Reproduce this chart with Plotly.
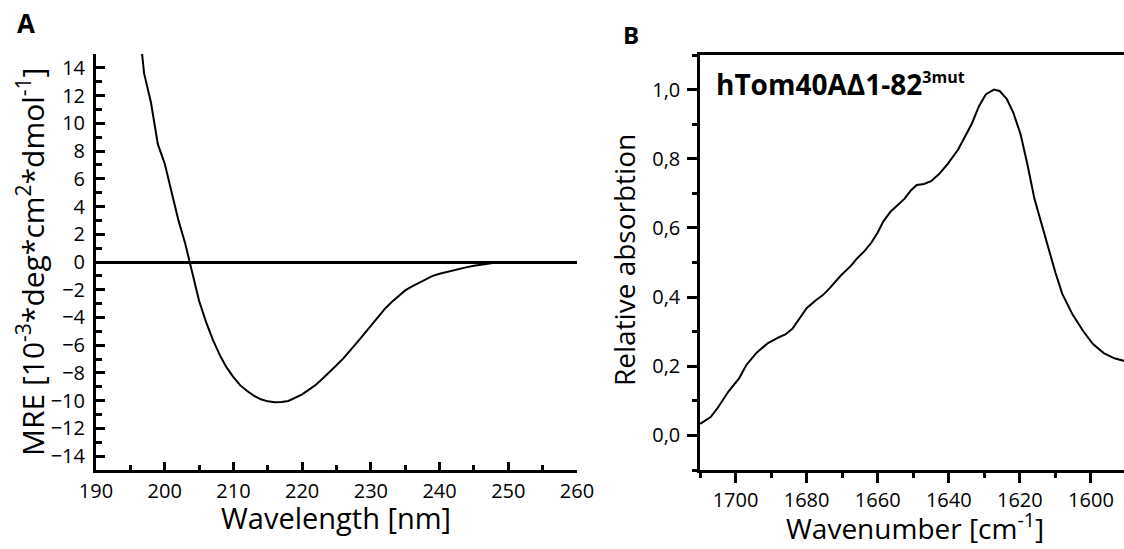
import plotly.graph_objects as go

# ---- Panel A: CD spectrum ----
wavelength_nm = [196.5, 197, 198, 199, 200, 201, 202, 203, 204, 205, 206, 207, 208, 209, 210,
                 211, 212, 213, 214, 215, 216, 217, 218, 219, 220, 221, 222, 223, 224, 225,
                 226, 227, 228, 229, 230, 231, 232, 233, 234, 235, 236, 237, 238, 239, 240,
                 241, 242, 243, 244, 245, 246, 247, 248, 249, 250, 252, 254, 256, 258, 260]
mre = [16.0, 13.6, 11.5, 8.5, 7.1, 5.0, 3.0, 1.3, -0.8, -2.8, -4.3, -5.6, -6.7, -7.6, -8.3,
       -8.9, -9.3, -9.65, -9.9, -10.05, -10.12, -10.1, -10.02, -9.8, -9.55, -9.2, -8.85, -8.4, -7.95, -7.45,
       -6.95, -6.4, -5.8, -5.2, -4.6, -4.0, -3.4, -2.9, -2.45, -2.05, -1.75, -1.5, -1.25, -1.0, -0.85,
       -0.72, -0.6, -0.48, -0.37, -0.27, -0.18, -0.1, -0.05, -0.02, 0.0, 0.0, 0.0, 0.0, 0.0, 0.0]
a_xticks = [190, 200, 210, 220, 230, 240, 250, 260]
a_yticks = [-14, -12, -10, -8, -6, -4, -2, 0, 2, 4, 6, 8, 10, 12, 14]

# ---- Panel B: FTIR amide I ----
wavenumber = [1710, 1707, 1705, 1702, 1699, 1697, 1694, 1691, 1688, 1686, 1684, 1681.5, 1680,
              1677.5, 1675.5, 1673.5, 1670.5, 1667.5, 1665.8, 1663.8, 1661.8, 1660, 1658.4, 1656.4,
              1654.5, 1652.5, 1650.6, 1649, 1647, 1645, 1642.8, 1640.3, 1637.4, 1635.5, 1633.5,
              1631.5, 1629.6, 1627.3, 1625.7, 1623.7, 1621.8, 1619.8, 1617.9, 1615.9, 1614, 1612,
              1610, 1608.1, 1605.2, 1602.2, 1599.5, 1596.4, 1593.4, 1590.5]
absorption = [0.033, 0.053, 0.08, 0.127, 0.165, 0.203, 0.24, 0.266, 0.283, 0.292, 0.308, 0.344, 0.368,
              0.39, 0.405, 0.426, 0.461, 0.491, 0.512, 0.532, 0.557, 0.587, 0.619, 0.647,
              0.666, 0.684, 0.709, 0.724, 0.727, 0.735, 0.755, 0.785, 0.826, 0.861, 0.902,
              0.952, 0.986, 1.0, 0.996, 0.973, 0.932, 0.871, 0.785, 0.684, 0.613, 0.542,
              0.471, 0.41, 0.35, 0.302, 0.265, 0.238, 0.223, 0.215]
b_xticks = [1700, 1680, 1660, 1640, 1620, 1600]
b_yticks = [0.0, 0.2, 0.4, 0.6, 0.8, 1.0]
b_yticklabels = ["0,0", "0,2", "0,4", "0,6", "0,8", "1,0"]

FONT = "Open Sans"
W, H = 1124, 549

def px(x):
    return x / W

def py(y):
    return (H - y) / H

fig = go.Figure()
fig.add_trace(go.Scatter(x=wavelength_nm, y=mre, mode="lines",
                         line=dict(color="black", width=2), xaxis="x", yaxis="y",
                         showlegend=False, hoverinfo="skip"))
fig.add_trace(go.Scatter(x=wavenumber, y=absorption, mode="lines",
                         line=dict(color="black", width=2), xaxis="x2", yaxis="y2",
                         showlegend=False, hoverinfo="skip"))

tickfont = dict(family=FONT, size=20, color="black")

fig.update_layout(
    template="none",
    width=W, height=H, autosize=False,
    margin=dict(l=0, r=0, t=0, b=0, pad=0),
    paper_bgcolor="white", plot_bgcolor="white",
    font=dict(family=FONT, color="black"),
    xaxis=dict(domain=[px(96), px(577)], range=[190, 260], anchor="y", automargin=False,
               tickvals=a_xticks, ticks="inside", ticklen=8, tickwidth=2.5, tickcolor="black",
               minor=dict(dtick=5, tick0=190, ticks="inside", ticklen=5, tickwidth=2.5, tickcolor="black",
                          showgrid=False),
               showline=True, linewidth=3, linecolor="black", showgrid=False, zeroline=False,
               tickfont=tickfont, ticklabelstandoff=1),
    yaxis=dict(domain=[py(470), py(54)], range=[-15, 15], anchor="x", automargin=False,
               tickvals=a_yticks, ticks="inside", ticklen=9, tickwidth=2.5, tickcolor="black",
               minor=dict(dtick=1, tick0=0, ticks="inside", ticklen=6, tickwidth=2.5, tickcolor="black",
                          showgrid=False),
               showline=True, linewidth=3, linecolor="black", showgrid=False,
               zeroline=True, zerolinewidth=3, zerolinecolor="black",
               tickfont=tickfont, ticklabelstandoff=4),
    xaxis2=dict(domain=[px(700), 1.0], range=[1710, 1590.7], anchor="y2", automargin=False,
                tickvals=b_xticks, ticks="outside", ticklen=10, tickwidth=2.5, tickcolor="black",
                minor=dict(dtick=10, tick0=1600, ticks="outside", ticklen=5, tickwidth=2.5, tickcolor="black",
                           showgrid=False),
                showline=True, linewidth=2.5, linecolor="black", mirror=True,
                showgrid=False, zeroline=False, tickfont=tickfont, ticklabelstandoff=0),
    yaxis2=dict(domain=[py(470), py(55)], range=[-0.1, 1.1], anchor="x2", automargin=False,
                tickvals=b_yticks, ticktext=b_yticklabels, ticks="outside", ticklen=10,
                tickwidth=2.5, tickcolor="black",
                minor=dict(dtick=0.1, tick0=0, ticks="outside", ticklen=5, tickwidth=2.5, tickcolor="black",
                           showgrid=False),
                showline=True, linewidth=2.5, linecolor="black", showgrid=False, zeroline=False,
                tickfont=tickfont, ticklabelstandoff=3),
)

ann = [
    dict(text="<b>A</b>", x=px(26), y=py(23), size=26, angle=0),
    dict(text="<b>B</b>", x=px(631), y=py(34), size=24, angle=0),
    dict(text="Wavelength [nm]", x=px(336), y=py(517), size=29, angle=0),
    dict(text="Wavenumber [cm<sup>-1</sup>]", x=px(915), y=py(526), size=28, angle=0),
    dict(text="MRE [10<sup>-3</sup>*deg*cm<sup>2</sup>*dmol<sup>-1</sup>]", x=px(31), y=py(262), size=30, angle=-90),
    dict(text="Relative absorbtion", x=px(624), y=py(260), size=28, angle=-90),
]
for a in ann:
    fig.add_annotation(text=a["text"], x=a["x"], y=a["y"], xref="paper", yref="paper",
                       xanchor="center", yanchor="middle", showarrow=False, textangle=a["angle"],
                       font=dict(family=FONT, size=a["size"], color="black"))

fig.add_annotation(text="<b>hTom40AΔ1-82<sup><span style=\"font-size:16px\">3mut</span></sup></b>",
                   x=px(714), y=py(84),
                   xref="paper", yref="paper", xanchor="left", yanchor="middle",
                   showarrow=False, font=dict(family=FONT, size=28, color="black"))

fig.write_html("out.html")
